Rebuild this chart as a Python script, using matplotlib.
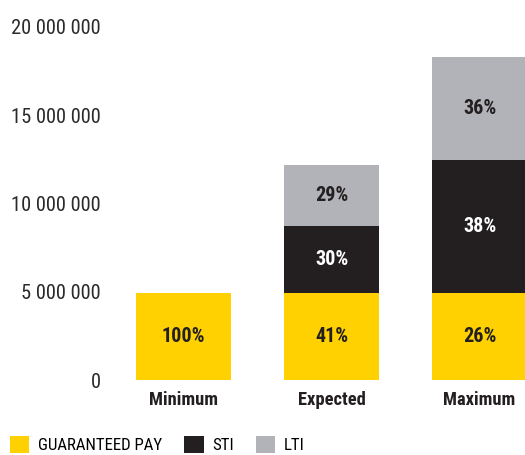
import numpy as np
import matplotlib.pyplot as plt
from matplotlib.ticker import FuncFormatter

# Data
categories = ["Minimum", "Expected", "Maximum"]
guaranteed = [4.94e6, 4.94e6, 4.94e6]
sti = [0, 3.8e6, 7.5e6]
lti = [0, 3.45e6, 5.85e6]
guaranteed_pct = ["100%", "41%", "26%"]
sti_pct = ["", "30%", "38%"]
lti_pct = ["", "29%", "36%"]
series_names = ["GUARANTEED PAY", "STI", "LTI"]

yellow = "#FFD100"
black = "#231F20"
grey = "#B1B3B8"

plt.rcParams["font.family"] = ["Roboto Condensed", "Roboto", "DejaVu Sans"]

fig = plt.figure(figsize=(5.25, 4.55), dpi=100)
ax = fig.add_axes([106 / 525, 75 / 455, 1 - 106 / 525, (380 - 27) / 455])

x = np.arange(len(categories))
w = 0.64
b1 = ax.bar(x, guaranteed, w, color=yellow, label=series_names[0])
b2 = ax.bar(x, sti, w, bottom=guaranteed, color=black, label=series_names[1])
bottom3 = np.array(guaranteed) + np.array(sti)
b3 = ax.bar(x, lti, w, bottom=bottom3, color=grey, label=series_names[2])

# percentage labels in the middle of each segment
pct_kw = dict(ha="center", va="center", fontsize=14.5, fontweight="bold")
for i in range(len(categories)):
    ax.text(x[i], guaranteed[i] / 2, guaranteed_pct[i], color=black, **pct_kw)
    if sti[i] > 0:
        ax.text(x[i], guaranteed[i] + sti[i] / 2, sti_pct[i], color="white", **pct_kw)
    if lti[i] > 0:
        ax.text(x[i], bottom3[i] + lti[i] / 2, lti_pct[i], color=black, **pct_kw)

ax.set_xlim(-(183.5 - 106) / 148, 2 + 45.5 / 148)
ax.set_ylim(0, 20e6)
ax.set_yticks([0, 5e6, 10e6, 15e6, 20e6])
ax.yaxis.set_major_formatter(FuncFormatter(lambda v, p: f"{int(v):,}".replace(",", " ")))
ax.set_xticks(x)
ax.set_xticklabels(categories, fontsize=13.3, fontweight="bold", color=black, va="baseline")
ax.tick_params(axis="y", length=0, pad=4, labelsize=14.8, labelcolor="#2a2a2a")
ax.tick_params(axis="x", length=0, pad=18)
for s in ax.spines.values():
    s.set_visible(False)

fig.legend(handles=[b1, b2, b3], loc="lower left", bbox_to_anchor=(10 / 525, 2 / 455),
           ncol=3, frameon=False, fontsize=12.2, handlelength=1.15, handleheight=1.15,
           handletextpad=0.5, columnspacing=1.3, borderpad=0, borderaxespad=0)

fig.savefig("out.png", dpi=100)
